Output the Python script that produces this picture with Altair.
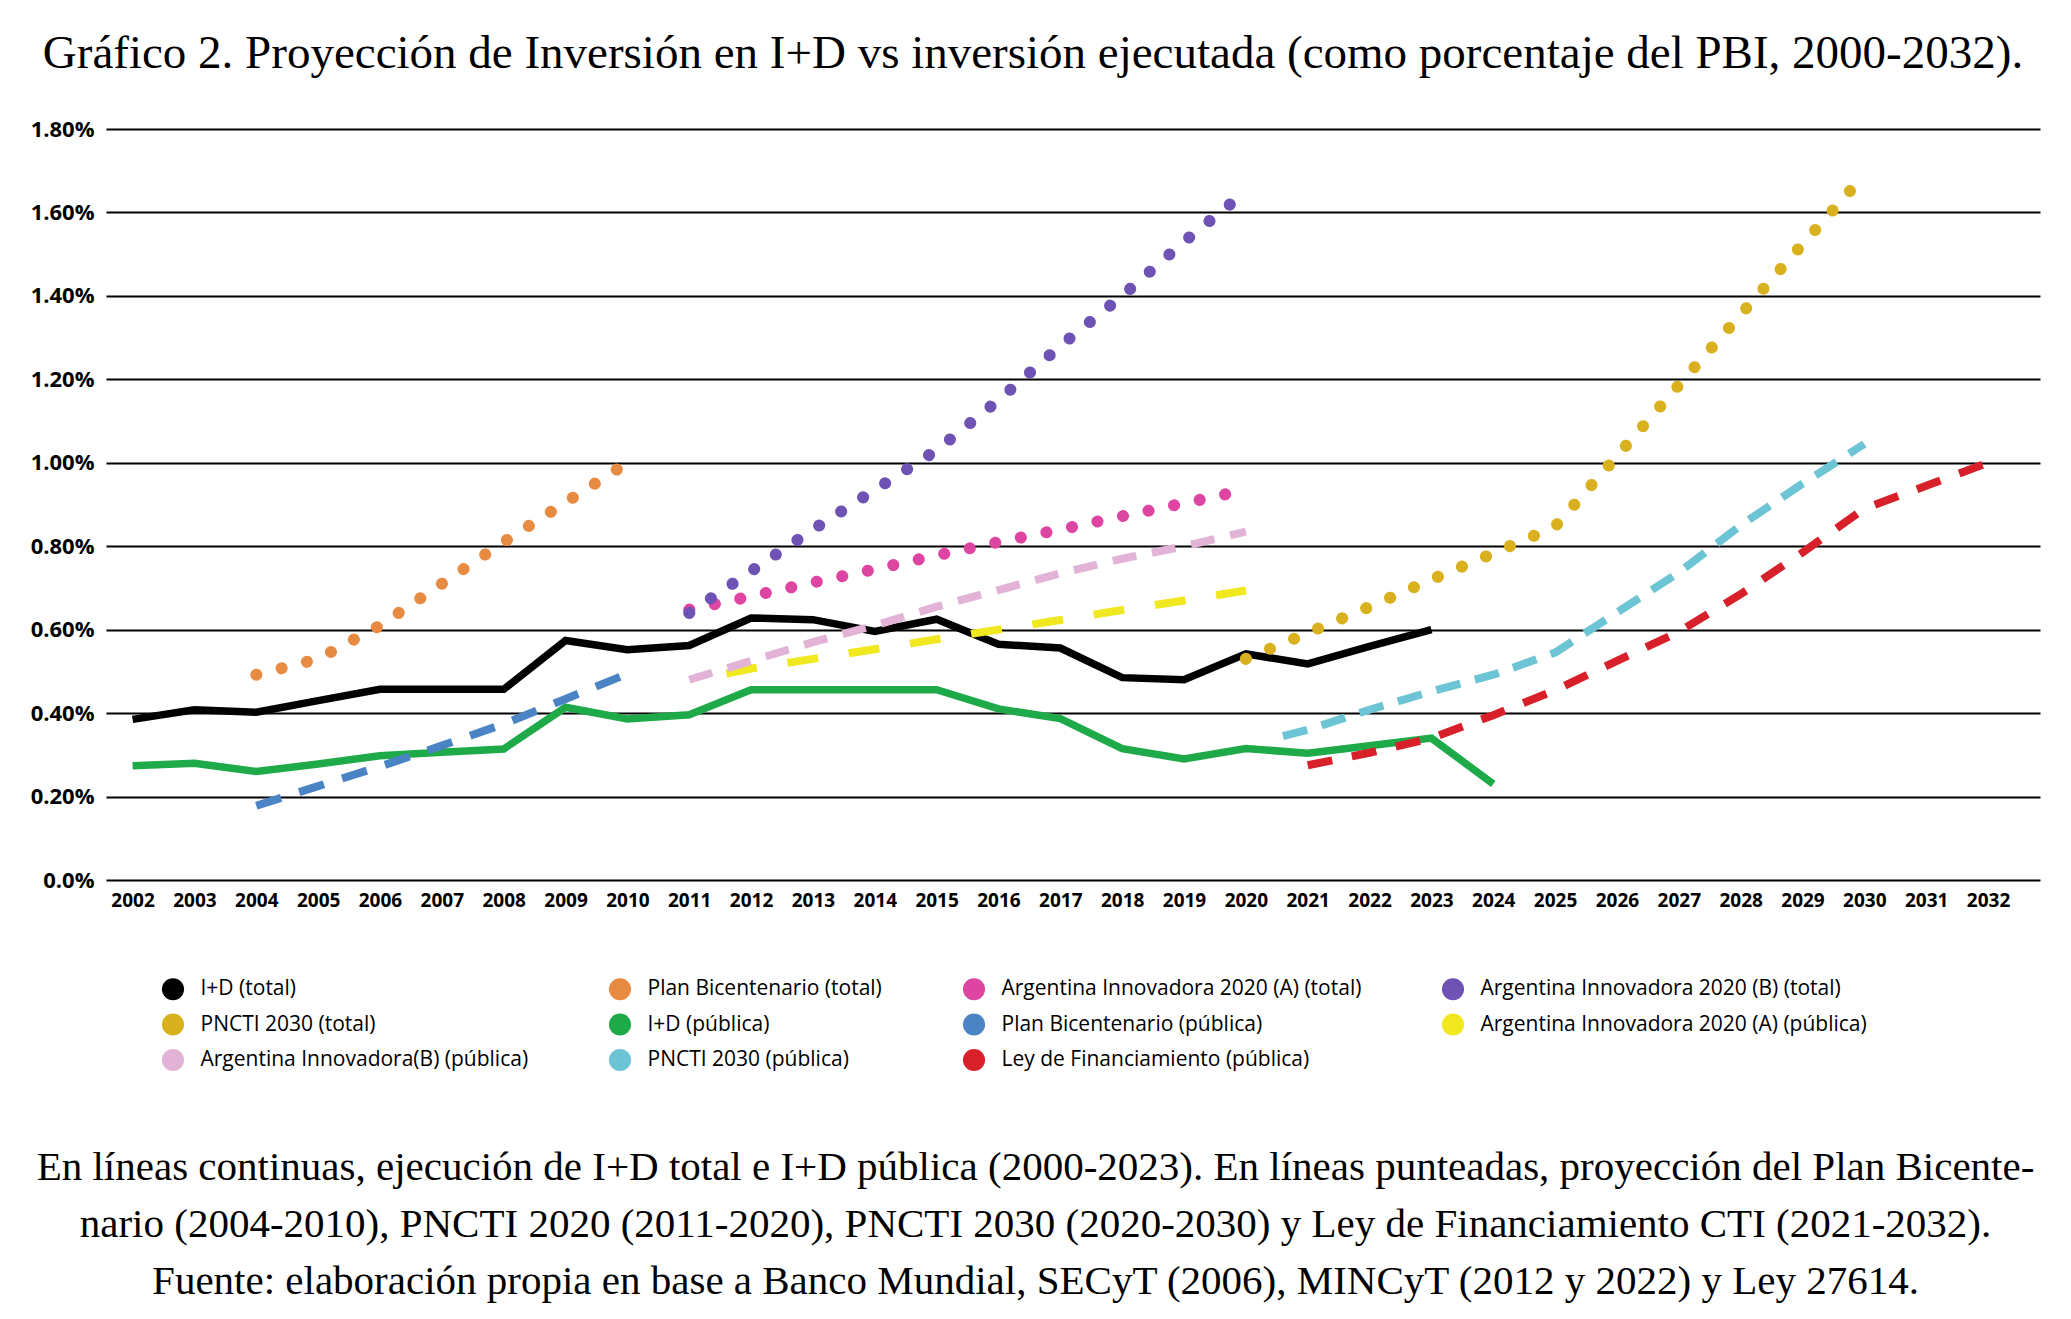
import altair as alt
import pandas as pd

# ---------------- data ----------------
series_names = [
    "I+D (total)", "Plan Bicentenario (total)", "Argentina Innovadora 2020 (A) (total)",
    "Argentina Innovadora 2020 (B) (total)", "PNCTI 2030 (total)", "I+D (pública)",
    "Plan Bicentenario (pública)", "Argentina Innovadora 2020 (A) (pública)",
    "Argentina Innovadora(B) (pública)", "PNCTI 2030 (pública)", "Ley de Financiamiento (pública)",
]
series_colors = [
    "#000000", "#E88B42", "#DE45A3", "#6E52B4", "#D9B01E", "#1FAA4A",
    "#4A84C4", "#F1E81F", "#E2B3D6", "#6CC4D4", "#D8202A",
]

id_total_years = list(range(2002, 2024))
id_total = [0.385, 0.408, 0.402, 0.43, 0.457, 0.457, 0.457, 0.574, 0.552, 0.562, 0.628,
            0.624, 0.596, 0.625, 0.565, 0.556, 0.485, 0.48, 0.542, 0.518, 0.56, 0.60]

id_pub_years = list(range(2002, 2025))
id_pub = [0.274, 0.28, 0.26, 0.278, 0.298, 0.306, 0.314, 0.414, 0.386, 0.396, 0.456, 0.456,
          0.456, 0.456, 0.41, 0.387, 0.315, 0.29, 0.315, 0.304, 0.322, 0.34, 0.23]

plan_bic_years = list(range(2004, 2011))
plan_bic_total = [0.492, 0.53, 0.61, 0.71, 0.81, 0.905, 1.0]
plan_bic_pub = [0.178, 0.225, 0.272, 0.322, 0.374, 0.434, 0.494]

ai_years = list(range(2011, 2021))
ai_a_total = [0.648, 0.68, 0.713, 0.745, 0.778, 0.81, 0.84, 0.872, 0.903, 0.935]
ai_b_total = [0.64, 0.74, 0.84, 0.935, 1.03, 1.15, 1.28, 1.40, 1.53, 1.65]
ai_b_pub = [0.48, 0.525, 0.57, 0.61, 0.655, 0.695, 0.735, 0.77, 0.80, 0.835]

ai_a_pub_years = [2011.6, 2012, 2013, 2014, 2015, 2016, 2017, 2018, 2019, 2020]
ai_a_pub = [0.495, 0.507, 0.53, 0.553, 0.577, 0.60, 0.623, 0.647, 0.67, 0.694]

pncti_total_years = list(range(2020, 2031))
pncti_total = [0.53, 0.592, 0.655, 0.72, 0.783, 0.847, 1.016, 1.186, 1.355, 1.524, 1.69]

pncti_pub_years = [2020.6, 2021, 2022, 2023, 2024, 2025, 2026, 2027, 2028, 2029, 2030]
pncti_pub = [0.345, 0.36, 0.408, 0.452, 0.492, 0.545, 0.641, 0.737, 0.85, 0.95, 1.045]

ley_years = list(range(2021, 2033))
ley = [0.275, 0.305, 0.34, 0.395, 0.455, 0.525, 0.595, 0.685, 0.785, 0.89, 0.945, 1.0]

x_tick_years = list(range(2002, 2033))
y_tick_values = [0, 0.2, 0.4, 0.6, 0.8, 1.0, 1.2, 1.4, 1.6, 1.8]

title_text = ("Gráfico 2. Proyección de Inversión en I+D vs inversión ejecutada "
              "(como porcentaje del PBI, 2000-2032).")
caption_lines = [
    "En líneas continuas, ejecución de I+D total e I+D pública (2000-2023). En líneas punteadas, proyección del Plan Bicente-",
    "nario (2004-2010), PNCTI 2020 (2011-2020), PNCTI 2030 (2020-2030) y Ley de Financiamiento CTI (2021-2032).",
    "Fuente: elaboración propia en base a Banco Mundial, SECyT (2006), MINCyT (2012 y 2022) y Ley 27614.",
]

dash_series = ["Plan Bicentenario (pública)", "Argentina Innovadora 2020 (A) (pública)",
               "Argentina Innovadora(B) (pública)", "PNCTI 2030 (pública)",
               "Ley de Financiamiento (pública)"]
dash_patterns = [[26, 19], [31, 31], [24, 16], [25, 15], [25, 20]]

# ---------------- table ----------------
rows = []


def add(name, style, years, values):
    for yr, v in zip(years, values):
        rows.append({"series": name, "style": style, "year": yr, "value": v})


add("I+D (total)", "solid", id_total_years, id_total)
add("I+D (pública)", "solid", id_pub_years, id_pub)
add("Plan Bicentenario (total)", "dotted", plan_bic_years, plan_bic_total)
add("Argentina Innovadora 2020 (A) (total)", "dotted", ai_years, ai_a_total)
add("Argentina Innovadora 2020 (B) (total)", "dotted", ai_years, ai_b_total)
add("PNCTI 2030 (total)", "dotted", pncti_total_years, pncti_total)
add("Plan Bicentenario (pública)", "dashed", plan_bic_years, plan_bic_pub)
add("Argentina Innovadora 2020 (A) (pública)", "dashed", ai_a_pub_years, ai_a_pub)
add("Argentina Innovadora(B) (pública)", "dashed", ai_years, ai_b_pub)
add("PNCTI 2030 (pública)", "dashed", pncti_pub_years, pncti_pub)
add("Ley de Financiamiento (pública)", "dashed", ley_years, ley)

df = pd.DataFrame(rows)

# ---------------- chart ----------------
x_enc = alt.X(
    "year:Q",
    scale=alt.Scale(domain=[2001.57, 2032.84], nice=False, zero=False),
    axis=alt.Axis(
        values=x_tick_years, format="d", grid=False, domain=False, ticks=False,
        labelFont="Open Sans", labelFontSize=19, labelFontWeight="bold", labelColor="black",
        labelPadding=11, labelFlush=False, labelOverlap=False,
        title=caption_lines, titleFont="Liberation Serif", titleFontSize=41,
        titleFontWeight="normal", titleColor="black", titleLineHeight=57,
        titleX=929, titleY=299, titleAlign="center", titleBaseline="alphabetic",
    ),
)
y_enc = alt.Y(
    "value:Q",
    scale=alt.Scale(domain=[0, 1.8], nice=False),
    axis=alt.Axis(
        values=y_tick_values,
        labelExpr="datum.value == 0 ? '0.0%' : format(datum.value / 100, '.2%')",
        grid=True, gridColor="black", gridWidth=2, gridOpacity=1,
        domain=False, ticks=False,
        labelFont="Open Sans", labelFontSize=22, labelFontWeight="bold", labelColor="black",
        labelPadding=12, title=None,
    ),
)
# legend comes from an invisible filled point layer, so its symbols are filled circles
legend_color = alt.Color(
    "series:N",
    scale=alt.Scale(domain=series_names, range=series_colors),
    legend=alt.Legend(
        orient="none", legendX=55.5, legendY=848.5, columns=4, direction="horizontal",
        columnPadding=80, rowPadding=12.5, symbolType="circle", symbolSize=490,
        symbolStrokeWidth=0, symbolOpacity=1, labelFont="Open Sans", labelFontSize=21,
        labelColor="black", labelOffset=16, labelLimit=700, title=None,
    ),
)
line_stroke = alt.Stroke(
    "series:N", scale=alt.Scale(domain=series_names, range=series_colors), legend=None)

base = alt.Chart(df).encode(x=x_enc, y=y_enc)

legend_layer = base.mark_point(filled=True, opacity=0, size=1).encode(color=legend_color)

solid = base.transform_filter(alt.datum.style == "solid").mark_line(
    strokeWidth=7.5, strokeJoin="miter").encode(stroke=line_stroke)
dashed = base.transform_filter(alt.datum.style == "dashed").mark_line(
    strokeWidth=8, strokeJoin="miter").encode(
    stroke=line_stroke,
    strokeDash=alt.StrokeDash("series:N", scale=alt.Scale(domain=dash_series, range=dash_patterns),
                              legend=None))
dotted = base.transform_filter(alt.datum.style == "dotted").mark_line(
    strokeWidth=12, strokeCap="round", strokeDash=[0.1, 26]).encode(stroke=line_stroke)

chart = alt.layer(legend_layer, solid, dashed, dotted).properties(
    width=1934, height=751,
    title=alt.TitleParams(
        text=title_text, font="Liberation Serif", fontSize=47, fontWeight="normal",
        color="black", anchor="middle", dx=-40, offset=40,
    ),
    autosize=alt.AutoSizeParams(type="none"),
    padding={"left": 98, "top": 121, "right": 23, "bottom": 425},
    background="white",
).configure_view(stroke=None).configure_legend(padding=0)

chart.save("out.html", embed_options={"renderer": "svg", "actions": False})
